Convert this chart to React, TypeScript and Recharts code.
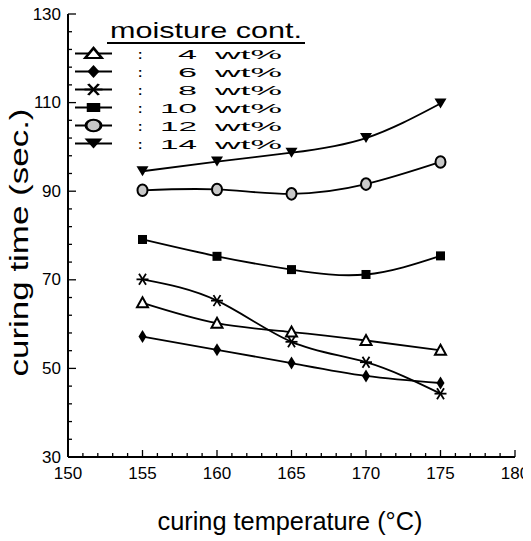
import { LineChart, Line, XAxis, YAxis, Customized } from "recharts";

const temperatures = [155, 160, 165, 170, 175];
const moisture4 = [64.8, 60.2, 58.2, 56.3, 54.1];
const moisture6 = [57.2, 54.2, 51.2, 48.3, 46.7];
const moisture8 = [70.1, 65.3, 56.0, 51.4, 44.3];
const moisture10 = [79.1, 75.3, 72.3, 71.2, 75.4];
const moisture12 = [90.2, 90.4, 89.4, 91.6, 96.6];
const moisture14 = [94.5, 96.7, 98.7, 102.0, 109.8];

const seriesKeys = ["m4", "m6", "m8", "m10", "m12", "m14"];
const seriesLabels = ["4", "6", "8", "10", "12", "14"];
const markerKinds = ["triangle", "diamond", "star", "square", "circle", "down"];

const yMajorTicks = [30, 50, 70, 90, 110, 130];

const data = temperatures.map((t, i) => ({
  temp: t,
  m4: moisture4[i],
  m6: moisture6[i],
  m8: moisture8[i],
  m10: moisture10[i],
  m12: moisture12[i],
  m14: moisture14[i],
}));

// minor ticks: every 1 degree, every 4 sec
const xTicks: number[] = [];
for (let v = 150; v <= 180; v++) xTicks.push(v);
const yTicks: number[] = [];
for (let v = 30; v <= 130; v += 4) yTicks.push(v);

const FONT = "'Liberation Sans', Arial, sans-serif";

function Marker({ kind, cx, cy, sx = 1 }: { kind: string; cx: number; cy: number; sx?: number }) {
  const t = `translate(${cx},${cy}) scale(${sx},1)`;
  switch (kind) {
    case "triangle":
      return <path transform={t} d="M0,-5.5 L5.5,4.5 L-5.5,4.5 Z" fill="#fff" stroke="#000" strokeWidth={2} />;
    case "diamond":
      return <path transform={t} d="M0,-6.5 L4,0 L0,6.5 L-4,0 Z" fill="#000" />;
    case "star":
      return (
        <g transform={t} stroke="#000" strokeWidth={1.8}>
          <line x1={-6} y1={0} x2={6} y2={0} />
          <line x1={-3.5} y1={-5.5} x2={3.5} y2={5.5} />
          <line x1={3.5} y1={-5.5} x2={-3.5} y2={5.5} />
        </g>
      );
    case "square":
      return <rect transform={t} x={-4.5} y={-4.5} width={9} height={9} fill="#000" />;
    case "circle":
      return <ellipse transform={t} rx={5} ry={5.8} fill="#c8c8c8" stroke="#000" strokeWidth={2} />;
    default:
      return <path transform={t} d="M-6,-5 L6,-5 L0,5 Z" fill="#000" />;
  }
}

function makeDot(kind: string) {
  return (props: any) => (
    <Marker key={`${kind}-${props.index}`} kind={kind} cx={props.cx} cy={props.cy} />
  );
}

function XTick({ x, y, payload }: any) {
  const v = payload.value;
  const major = v % 5 === 0;
  return (
    <g>
      <line x1={x} x2={x} y1={y} y2={y - (major ? 7 : 4)} stroke="#000" strokeWidth={1.3} />
      {major && (
        <text x={x} y={y + 16} textAnchor="middle" dominantBaseline="central" fontSize={17} fontFamily={FONT} fill="#000">
          {v}
        </text>
      )}
    </g>
  );
}

function YTick({ x, y, payload }: any) {
  const v = payload.value;
  const major = yMajorTicks.includes(v);
  return (
    <g>
      <line x1={x} x2={x + (major ? 8 : 4)} y1={y} y2={y} stroke="#000" strokeWidth={1.3} />
      {major && (
        <text x={x - 7} y={y} textAnchor="end" dominantBaseline="central" fontSize={17} fontFamily={FONT} fill="#000">
          {v}
        </text>
      )}
    </g>
  );
}

function Decorations() {
  return (
    <g fontFamily={FONT} fill="#000">
      <text
        x={19}
        y={242.5}
        transform="rotate(-90 19 242.5)"
        textAnchor="middle"
        dominantBaseline="central"
        fontSize={25}
        textLength={268}
        lengthAdjust="spacingAndGlyphs"
      >
        curing time (sec.)
      </text>
      <text x={290} y={530} textAnchor="middle" fontSize={25} textLength={265} lengthAdjust="spacingAndGlyphs">
        curing temperature (°C)
      </text>
      <text x={110} y={38} fontSize={22} textLength={192} lengthAdjust="spacingAndGlyphs">
        moisture  cont.
      </text>
      <line x1={107} x2={305} y1={43} y2={43} stroke="#000" strokeWidth={2} />
      {seriesLabels.map((label, i) => {
        const cy = 53.5 + i * 18;
        return (
          <g key={label}>
            <line x1={75} x2={112} y1={cy} y2={cy} stroke="#000" strokeWidth={2.2} />
            <Marker kind={markerKinds[i]} cx={93.5} cy={cy} sx={1.5} />
            <text x={138} y={cy + 5} fontSize={13} fontWeight="bold">:</text>
            <text
              x={197}
              y={cy + 5}
              textAnchor="end"
              fontSize={13}
              textLength={label.length > 1 ? 37 : 19}
              lengthAdjust="spacingAndGlyphs"
            >
              {label}
            </text>
            <text x={215} y={cy + 5} fontSize={13} textLength={67} lengthAdjust="spacingAndGlyphs">
              wt%
            </text>
          </g>
        );
      })}
    </g>
  );
}

export default function App() {
  return (
    <div style={{ margin: "-8px 0 0 -8px", width: 531, height: 541 }}>
      <LineChart
        width={531}
        height={541}
        data={data}
        margin={{ top: 14, right: 16, left: 0, bottom: 0 }}
        style={{ overflow: "visible" }}
      >
        <XAxis
          dataKey="temp"
          type="number"
          domain={[150, 180]}
          ticks={xTicks}
          interval={0}
          height={84}
          tickSize={0}
          tickMargin={0}
          tickLine={false}
          tick={<XTick />}
          axisLine={{ stroke: "#000", strokeWidth: 2 }}
        />
        <XAxis
          xAxisId="top"
          orientation="top"
          type="number"
          domain={[150, 180]}
          height={0}
          tick={false}
          tickLine={false}
          axisLine={{ stroke: "#000", strokeWidth: 2 }}
        />
        <YAxis
          type="number"
          domain={[30, 130]}
          ticks={yTicks}
          interval={0}
          width={68}
          tickSize={0}
          tickMargin={0}
          tickLine={false}
          tick={<YTick />}
          axisLine={{ stroke: "#000", strokeWidth: 2 }}
        />
        <YAxis
          yAxisId="right"
          orientation="right"
          type="number"
          domain={[30, 130]}
          width={0}
          tick={false}
          tickLine={false}
          axisLine={{ stroke: "#000", strokeWidth: 2 }}
        />
        {seriesKeys.map((k, i) => (
          <Line
            key={k}
            dataKey={k}
            type="natural"
            stroke="#000"
            strokeWidth={1.8}
            dot={makeDot(markerKinds[i])}
            activeDot={false}
            isAnimationActive={false}
          />
        ))}
        <Customized component={Decorations} />
      </LineChart>
    </div>
  );
}
